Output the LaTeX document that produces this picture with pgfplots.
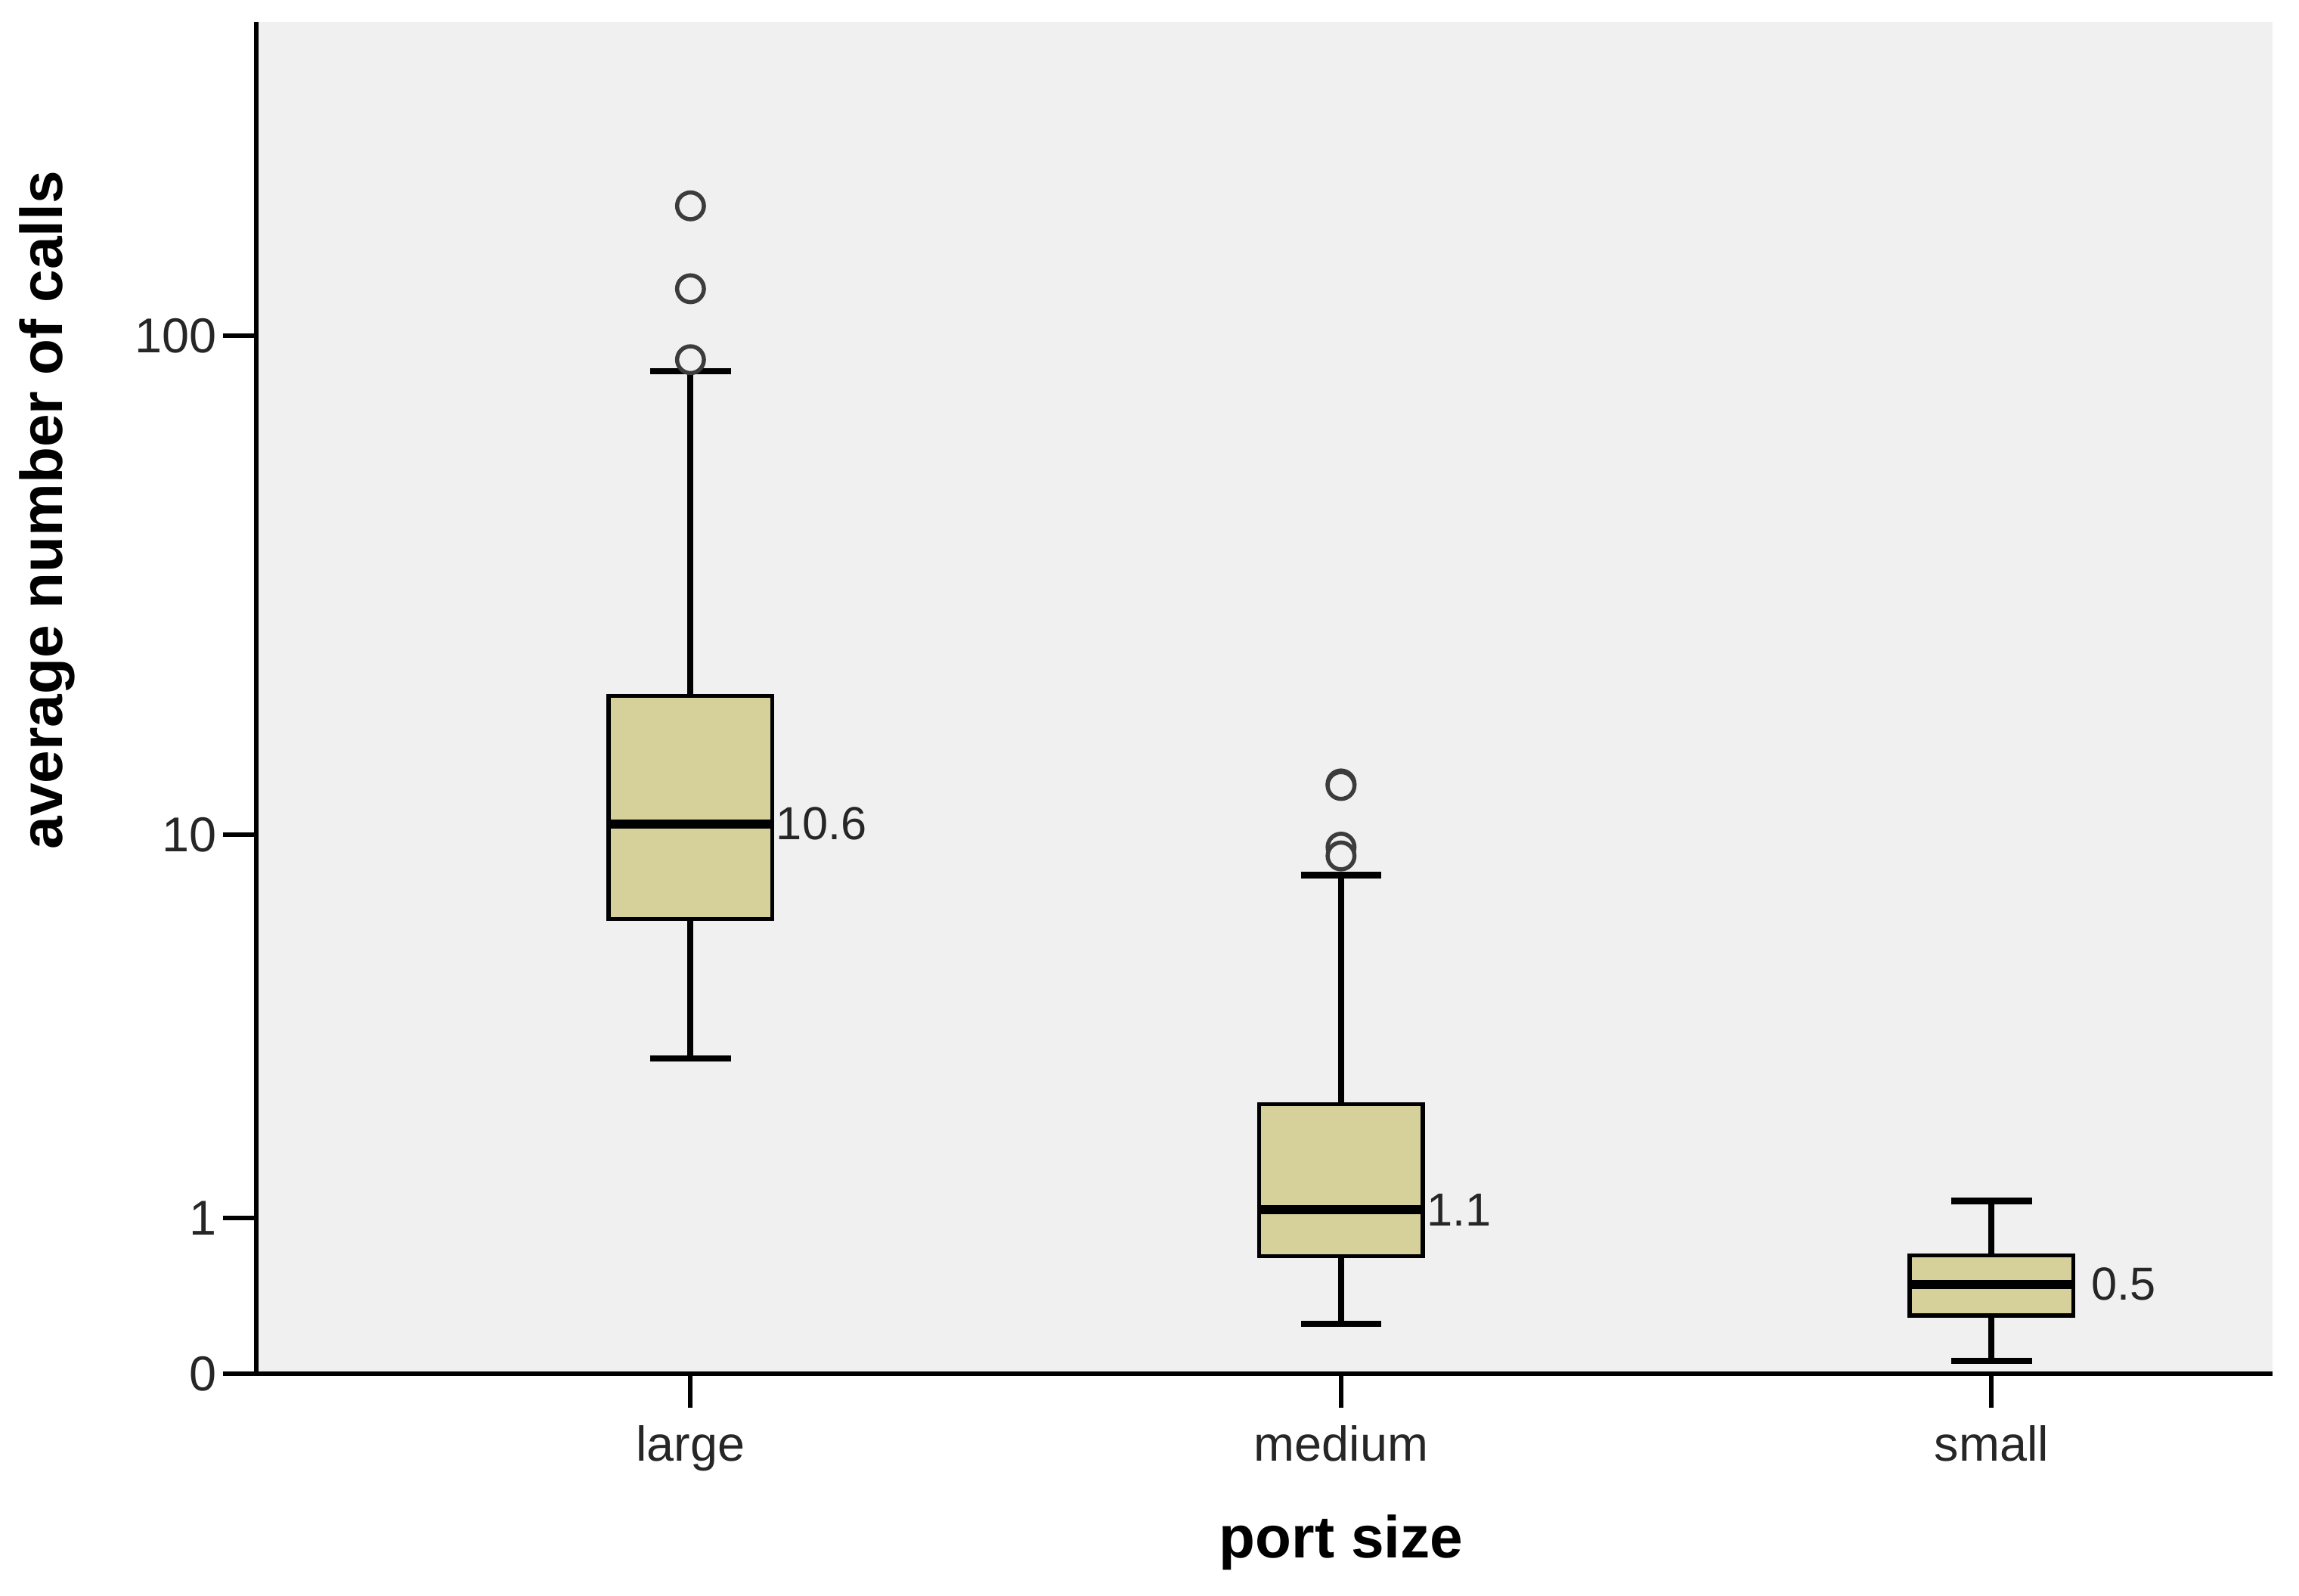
\documentclass[border=0pt]{standalone}
\usepackage{fontspec}
\setmainfont{Liberation Sans}
\usepackage{pgfplots}
\pgfplotsset{compat=1.18}
\usepgfplotslibrary{statistics}
\usetikzlibrary{calc}

\definecolor{bggray}{HTML}{F0F0F0}
\definecolor{boxfill}{HTML}{D6D09A}
\definecolor{outl}{HTML}{3C3C3C}

% y is drawn on a log10(calls+1) scale, values below are already transformed
\begin{document}
\begin{tikzpicture}
\begin{axis}[
  scale only axis,
  width=13.75cm, height=9.22cm,
  xmin=0.333, xmax=3.432,
  ymin=0, ymax=2.61,
  axis x line*=bottom, axis y line*=left,
  axis line style={-, line width=0.9pt, black},
  axis background/.style={fill=bggray},
  tick align=outside, major tick length=2.3mm,
  tick style={line width=0.85pt, black},
  minor tick num=0,
  xtick={1,2,3}, xticklabels={large,medium,small},
  ytick={0,0.30103,1.04139,2.00432}, yticklabels={0,1,10,100},
  ticklabel style={font=\fontsize{9.5}{11}\selectfont, text=black!85},
  yticklabel style={inner sep=1pt},
  xlabel={port size}, ylabel={average number of calls},
  every axis x label/.style={at={(axis description cs:0.538,-0.1247)}, anchor=center,
    font=\bfseries\fontsize{11.5}{13}\selectfont},
  every axis y label/.style={at={(axis description cs:-0.104,0.639)}, rotate=90, anchor=center,
    font=\bfseries\fontsize{11.5}{13}\selectfont},
  boxplot/draw direction=y,
  boxplot/every box/.style={draw=black, line width=0.8pt, fill=boxfill},
  boxplot/every whisker/.style={black, line width=1.2pt},
  boxplot/every median/.style={black, line width=1.8pt},
  boxplot/box extend=0.2516,
  boxplot/whisker extend=0.124,
  clip=false,
]

% large
\addplot[mark=*, mark size=2.6pt, mark options={draw=outl, fill=bggray, line width=0.8pt},
  boxplot prepared={draw position=1,
    lower whisker=0.609, lower quartile=0.878, median=1.062,
    upper quartile=1.309, upper whisker=1.936}]
  table[row sep=\\, y index=0] {2.255\\2.095\\1.958\\};

% medium
\addplot[mark=*, mark size=2.6pt, mark options={draw=outl, fill=bggray, line width=0.8pt},
  boxplot prepared={draw position=2,
    lower whisker=0.0963, lower quartile=0.227, median=0.317,
    upper quartile=0.521, upper whisker=0.963}]
  table[row sep=\\, y index=0] {1.139\\1.136\\1.017\\1.000\\};

% small
\addplot[boxplot prepared={draw position=3,
    lower whisker=0.0255, lower quartile=0.113, median=0.173,
    upper quartile=0.229, upper whisker=0.334}]
  coordinates {};

\node[anchor=west, inner sep=0.5pt, font=\fontsize{9}{10}\selectfont, text=black!85]
  at (axis cs:1.1265,1.062) {10.6};
\node[anchor=west, inner sep=0.5pt, font=\fontsize{9}{10}\selectfont, text=black!85]
  at (axis cs:2.1265,0.317) {1.1};
\node[anchor=west, inner sep=0.5pt, font=\fontsize{9}{10}\selectfont, text=black!85]
  at (axis cs:3.148,0.173) {0.5};
\end{axis}
\path ($(current axis.south west)+(-1.75cm,-1.51cm)$) rectangle ($(current axis.north east)+(0.18cm,0.15cm)$);
\end{tikzpicture}
\end{document}
